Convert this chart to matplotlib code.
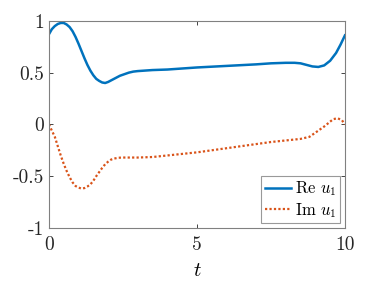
import matplotlib
matplotlib.use('Agg')
import matplotlib.pyplot as plt

plt.rcParams['font.family'] = 'serif'
plt.rcParams['font.serif'] = ['cmr10', 'DejaVu Serif']
plt.rcParams['mathtext.fontset'] = 'cm'
plt.rcParams['axes.unicode_minus'] = False

# values
t_re = [0, 0.1, 0.2, 0.3, 0.4, 0.5, 0.6, 0.7, 0.8, 0.9, 1.0, 1.1, 1.2, 1.3, 1.4, 1.5,
        1.6, 1.7, 1.8, 1.9, 2.0, 2.1, 2.2, 2.3, 2.4, 2.55, 2.7, 2.85, 3.0, 3.5,
        4.0, 5.0, 6.0, 7.0, 7.5, 8.0, 8.3, 8.5, 8.7, 8.9, 9.1, 9.3, 9.5, 9.7, 9.85, 10]
re_u1 = [0.87, 0.92, 0.95, 0.97, 0.98, 0.98, 0.965, 0.94, 0.90, 0.845, 0.78, 0.71,
         0.64, 0.575, 0.52, 0.475, 0.44, 0.42, 0.405, 0.40, 0.41, 0.425, 0.44, 0.455,
         0.47, 0.485, 0.50, 0.51, 0.515, 0.525, 0.53, 0.55, 0.565, 0.58, 0.59, 0.595,
         0.595, 0.59, 0.575, 0.56, 0.555, 0.57, 0.615, 0.69, 0.77, 0.86]

t_im = [0, 0.1, 0.2, 0.3, 0.4, 0.5, 0.6, 0.7, 0.8, 0.9, 1.0, 1.1, 1.2, 1.3, 1.4, 1.5,
        1.6, 1.7, 1.8, 1.9, 2.0, 2.1, 2.2, 2.35, 2.5, 3.0, 3.5, 4.0,
        5.0, 6.0, 7.0, 7.5, 8.0, 8.5, 8.8, 9.0, 9.15, 9.3, 9.45, 9.6, 9.75, 9.9, 10]
im_u1 = [0.0, -0.06, -0.12, -0.21, -0.30, -0.38, -0.45, -0.51, -0.56, -0.595, -0.61,
         -0.62, -0.615, -0.60, -0.58, -0.545, -0.50, -0.46, -0.42, -0.385, -0.36,
         -0.34, -0.33, -0.322, -0.32, -0.32, -0.315, -0.30, -0.27, -0.23, -0.19,
         -0.17, -0.155, -0.14, -0.12, -0.08, -0.05, -0.02, 0.015, 0.05, 0.06, 0.04, 0.0]

xticks = [0, 5, 10]
yticks = [-1, -0.5, 0, 0.5, 1]
ytick_labels = ['-1', '-0.5', '0', '0.5', '1']

fig = plt.figure(figsize=(3.82, 2.86), dpi=100)
ax = fig.add_axes([0.128, 0.203, 0.775, 0.724])

ax.plot(t_re, re_u1, color='#0072BD', linewidth=1.8, label=r'Re $u_1$')
ax.plot(t_im, im_u1, color='#D95319', linewidth=1.6, linestyle=(0, (1, 1)),
        label=r'Im $u_1$')

ax.set_xlim(0, 10)
ax.set_ylim(-1, 1)
ax.set_xticks(xticks)
ax.set_xticklabels([str(v) for v in xticks])
ax.set_yticks(yticks)
ax.set_yticklabels(ytick_labels)
ax.tick_params(direction='in', top=True, right=True, labelsize=14, colors='#262626',
               length=3, width=0.6)
ax.tick_params(axis='x', pad=6)
for s in ax.spines.values():
    s.set_color('#808080')
    s.set_linewidth(0.8)
ax.set_xlabel(r'$t$', fontsize=15, labelpad=6)

leg = ax.legend(loc='lower right', fontsize=12, frameon=True, fancybox=False,
                borderpad=0.2, handlelength=1.6, handletextpad=0.2, labelspacing=0.15,
                borderaxespad=0.3)
leg.get_frame().set_edgecolor('#808080')
leg.get_frame().set_linewidth(0.8)

fig.savefig('out.png', dpi=100)
